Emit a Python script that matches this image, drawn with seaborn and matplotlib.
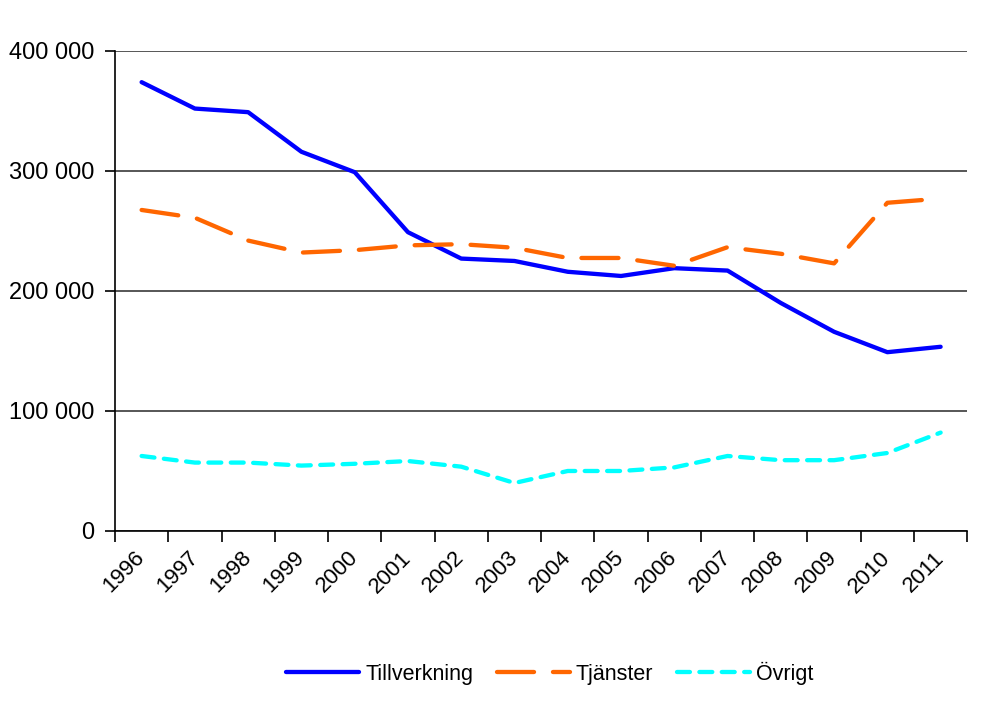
import numpy as np
import pandas as pd
import matplotlib
matplotlib.use("Agg")
import matplotlib.pyplot as plt
import seaborn as sns
from matplotlib.ticker import FuncFormatter, FixedLocator

# data
years = ["1996", "1997", "1998", "1999", "2000", "2001", "2002", "2003",
         "2004", "2005", "2006", "2007", "2008", "2009", "2010", "2011"]
tillverkning = [374000, 352000, 349000, 316000, 299000, 249000, 227000, 225000,
                216000, 212500, 219000, 217000, 190000, 166000, 149000, 153500]
tjanster = [267500, 261000, 242000, 232000, 234000, 238000, 239000, 236000,
            227500, 227500, 221000, 236500, 231000, 223000, 273500, 277000]
ovrigt = [62500, 57000, 57000, 54500, 56000, 58300, 53600, 40000,
          50000, 50000, 53000, 62500, 59000, 59000, 65000, 82000]
series_names = ["Tillverkning", "Tjänster", "Övrigt"]

df = pd.DataFrame({
    "x": list(range(len(years))) * 3,
    "value": tillverkning + tjanster + ovrigt,
    "Serie": np.repeat(series_names, len(years)),
})

sns.set_theme(style="white")
plt.rcParams["font.family"] = ["Liberation Sans", "DejaVu Sans"]
plt.rcParams["text.color"] = "black"
plt.rcParams["xtick.color"] = "black"
plt.rcParams["ytick.color"] = "black"

fig = plt.figure(figsize=(9.87, 7.02), dpi=100)
ax = fig.add_axes([0.1165, 0.2436, 0.8635, 0.6838])

palette = {"Tillverkning": "#0000FF", "Tjänster": "#FF6600", "Övrigt": "#00FFFF"}
dashes = {"Tillverkning": "", "Tjänster": (8.6, 4.4), "Övrigt": (3.0, 2.2)}
sns.lineplot(data=df, x="x", y="value", hue="Serie", style="Serie",
             palette=palette, dashes=dashes, linewidth=3.1, ax=ax,
             hue_order=series_names, style_order=series_names)

for line in ax.get_lines():
    line.set_dash_capstyle("round")
    line.set_solid_capstyle("round")

ax.set_xlim(-0.5, len(years) - 0.5)
ax.set_ylim(0, 400000)
ax.set_xlabel("")
ax.set_ylabel("")

# major ticks on category borders, labels in the middle
ax.xaxis.set_major_locator(FixedLocator(np.arange(-0.5, len(years), 1.0)))
ax.set_xticklabels([], minor=False)
ax.set_xticks(np.arange(len(years)), minor=True)
ax.set_xticklabels(years, minor=True, rotation=45, ha="right", va="center",
                   rotation_mode="anchor", fontsize=16)
ax.tick_params(axis="x", which="major", length=8, width=1.2, color="black",
               direction="out", bottom=True)
ax.tick_params(axis="x", which="minor", length=0, pad=17)

ax.set_yticks([0, 100000, 200000, 300000, 400000])
ax.yaxis.set_major_formatter(FuncFormatter(lambda v, p: f"{int(v):,}".replace(",", " ")))
ax.tick_params(axis="y", length=7, width=1.2, color="black", direction="out",
               left=True, labelsize=17, pad=8)
ax.grid(axis="y", color="#3a3a3a", linewidth=1.2)
ax.set_axisbelow(True)

for s in ["top", "right"]:
    ax.spines[s].set_visible(False)
for s in ["left", "bottom"]:
    ax.spines[s].set_color("black")
    ax.spines[s].set_linewidth(1.2)

handles, labels = ax.get_legend_handles_labels()
ax.get_legend().remove()
fig.legend(handles, labels, loc="center", bbox_to_anchor=(0.557, 0.041),
           ncol=3, frameon=False, fontsize=15.5, handlelength=3.4,
           columnspacing=1.1, handletextpad=0.28)

fig.savefig("out.png", dpi=100)
